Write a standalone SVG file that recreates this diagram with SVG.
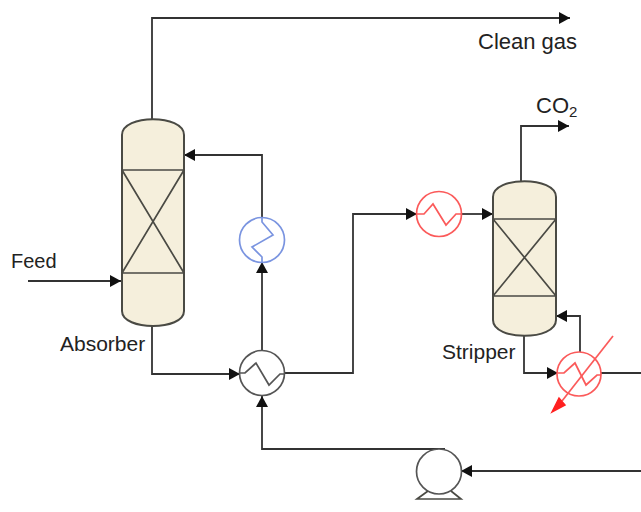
<svg xmlns="http://www.w3.org/2000/svg" width="641" height="512" viewBox="0 0 641 512">
<style>
.v{fill:#f5efdc;stroke:#4a4a44;stroke-width:2}
.i{fill:none;stroke:#4a4a44;stroke-width:1.7}
.c{fill:none;stroke:#333;stroke-width:1.8}
.h{fill:#fff;stroke:#555;stroke-width:1.7}
.hb{fill:#fff;stroke:#7a94e0;stroke-width:1.7}
.hr{fill:#fff;stroke:#fb5a5a;stroke-width:1.7}
.zk{fill:none;stroke:#555;stroke-width:1.7}
.zb{fill:none;stroke:#7a94e0;stroke-width:1.7}
.zr{fill:none;stroke:#fb5a5a;stroke-width:1.7}
text{font-family:"Liberation Sans",Arial,sans-serif;fill:#222}
</style>
<defs>
<marker id="a" markerUnits="userSpaceOnUse" markerWidth="12" markerHeight="12" refX="11" refY="6" orient="auto"><path d="M0 0L11 6L0 12z" fill="#111"/></marker>
</defs>
<rect width="641" height="512" fill="#fff"/>
<g id="connectors">
<path class="c" marker-end="url(#a)" d="M152 120V18H570"/>
<path class="c" marker-end="url(#a)" d="M262 218V155H184"/>
<path class="c" marker-end="url(#a)" d="M28 281H121"/>
<path class="c" marker-end="url(#a)" d="M152 326V374H240"/>
<path class="c" marker-end="url(#a)" d="M262 351V262"/>
<path class="c" marker-end="url(#a)" d="M285 373H353V214H417"/>
<path class="c" marker-end="url(#a)" d="M461 214H493"/>
<path class="c" marker-end="url(#a)" d="M521 181V126H569"/>
<path class="c" marker-end="url(#a)" d="M524 336V373H558"/>
<path class="c" marker-end="url(#a)" d="M580 352V316H556"/>
<path class="c" d="M601 373H641"/>
<path class="c" marker-end="url(#a)" d="M445 449H262V396"/>
<path class="c" marker-end="url(#a)" d="M641 471H461"/>
</g>
<g id="absorber">
<path class="v" d="M122 135C122 114 184 114 184 135V311C184 331 122 331 122 311Z"/>
<path class="i" d="M122 170H184M122 273H184M122 170L184 273M184 170L122 273"/>
</g>
<g id="stripper">
<path class="v" d="M493 197C493 176 556 176 556 197V320C556 341 493 341 493 320Z"/>
<path class="i" d="M493 219H556M493 296H556M493 219L556 296M556 219L493 296"/>
</g>
<g id="cooler">
<circle class="hb" cx="262" cy="240" r="22.5"/>
<path class="zb" d="M262 218V222L273 235L252 247L262 257V262"/>
</g>
<g id="heater">
<circle class="hr" cx="439" cy="214" r="22.5"/>
<path class="zr" d="M417 214H424L433 204L446 225L456 214H461"/>
</g>
<g id="exchanger">
<circle class="h" cx="262" cy="373" r="22.5"/>
<path class="zk" d="M240 373H245L256 363L269 385L280 374H285"/>
</g>
<g id="reboiler">
<circle class="hr" cx="579" cy="374" r="22"/>
<path class="zr" d="M558 373H564L575 363L586 385L597 375H601"/>
<path class="zr" d="M613 336L562 401"/>
<path d="M552 412L559 398L565 405Z" fill="#ff2020" stroke="#ff2020" stroke-width="1.500"/>
</g>
<g id="pump">
<circle class="h" cx="439" cy="471.500" r="22.500"/>
<path class="i" d="M428 491L417 499H461L451 491"/>
</g>
<g id="labels">
<text x="478" y="49" font-size="22">Clean gas</text>
<text x="11" y="268" font-size="20">Feed</text>
<text x="60" y="351" font-size="21">Absorber</text>
<text x="442" y="359" font-size="21">Stripper</text>
<text x="536" y="113" font-size="22">CO<tspan font-size="15" dy="4">2</tspan></text>
</g>
</svg>
